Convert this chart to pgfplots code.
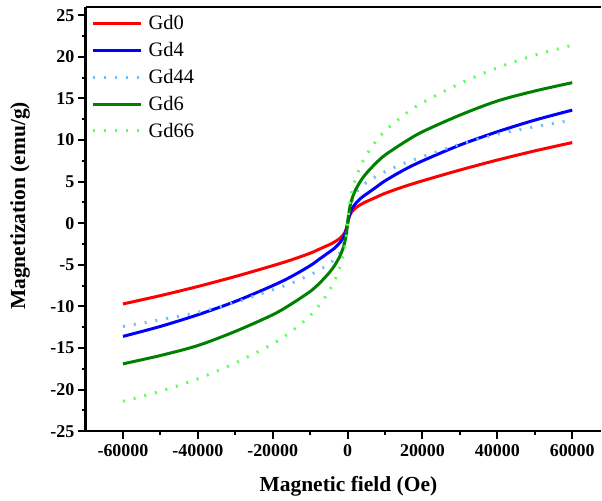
\documentclass[border=0pt]{standalone}
\usepackage{fontspec}
\setmainfont{Liberation Serif}
\usepackage{pgfplots}
\pgfplotsset{compat=1.18}

\definecolor{cGdO}{RGB}{255,0,0}
\definecolor{cGdF}{RGB}{0,0,255}
\definecolor{cGdFF}{RGB}{110,190,250}
\definecolor{cGdS}{RGB}{0,128,0}
\definecolor{cGdSS}{RGB}{90,255,90}

\begin{document}
\begin{tikzpicture}
\begin{axis}[
    scale only axis,
    width=516.3pt, height=425pt,
    xmin=-70000, xmax=67660,
    ymin=-25, ymax=26,
    axis x line=box, axis y line=left,
    axis line style={line width=2.2pt, -},
    xtick pos=left,
    tick align=outside,
    major tick length=8pt, minor tick length=4pt,
    tick style={line width=2pt, black},
    scaled x ticks=false,
    xtick={-60000,-40000,-20000,0,20000,40000,60000},
    xticklabels={-60000,-40000,-20000,0,20000,40000,60000},
    ytick={-25,-20,-15,-10,-5,0,5,10,15,20,25},
    yticklabels={-25,-20,-15,-10,-5,0,5,10,15,20,25},
    minor x tick num=1, minor y tick num=1,
    tick label style={font=\fontsize{18}{20}\selectfont\bfseries},
    xticklabel style={inner sep=5pt},
    yticklabel style={inner sep=3pt},
    xlabel={Magnetic field (Oe)},
    ylabel={Magnetization (emu/g)},
    label style={font=\fontsize{21.5}{24}\selectfont\bfseries},
    xlabel style={at={(axis description cs:0.51,-0.131)}, anchor=center},
    ylabel style={at={(axis description cs:-0.127,0.531)}, anchor=center, rotate=0},
    legend cell align=left,
    legend image code/.code={\draw[#1] (0pt,0pt) -- (47.6pt,0pt);},
    legend style={draw=none, fill=none, inner sep=0pt,
        at={(axis description cs:0,1)}, anchor=north west,
        xshift=6pt, yshift=-2.5pt,
        font=\fontsize{20.5}{24}\selectfont,
        nodes={inner sep=0pt, text height=19.8pt, text depth=7.2pt},
        /tikz/every odd column/.append style={column sep=6.4pt}},
]
\addplot[color=cGdO, line width=3pt, smooth, tension=0.5] coordinates {
(-60000,-9.7) (-50000,-8.7) (-40000,-7.6) (-30000,-6.4) (-20000,-5.1) (-15000,-4.4)
(-10000,-3.6) (-7500,-3.1) (-5000,-2.6) (-3500,-2.25) (-2000,-1.8) (-1000,-1.3)
(-500,-0.85) (-250,-0.5) (0,0) (250,0.5) (500,0.85) (1000,1.3) (2000,1.8)
(3500,2.25) (5000,2.6) (7500,3.1) (10000,3.6) (15000,4.4) (20000,5.1)
(30000,6.4) (40000,7.6) (50000,8.7) (60000,9.7)
};
\addlegendentry{Gd0}
\addplot[color=cGdF, line width=3pt, smooth, tension=0.5] coordinates {
(-60000,-13.6) (-50000,-12.4) (-40000,-11.0) (-30000,-9.4) (-20000,-7.5) (-15000,-6.4)
(-10000,-5.1) (-7500,-4.3) (-5000,-3.5) (-3500,-3.0) (-2000,-2.3) (-1000,-1.6)
(-500,-1.0) (-250,-0.6) (0,0) (250,0.6) (500,1.0) (1000,1.6) (2000,2.3)
(3500,3.0) (5000,3.5) (7500,4.3) (10000,5.1) (15000,6.4) (20000,7.5)
(30000,9.4) (40000,11.0) (50000,12.4) (60000,13.6)
};
\addlegendentry{Gd4}
\addplot[color=cGdFF, line width=3pt, dash pattern=on 2pt off 9pt, smooth, tension=0.5] coordinates {
(-60000,-12.4) (-50000,-11.6) (-40000,-10.7) (-30000,-9.5) (-20000,-8.0) (-15000,-7.2)
(-10000,-6.2) (-7500,-5.6) (-5000,-4.9) (-3500,-4.3) (-2000,-3.5) (-1000,-2.4)
(-500,-1.5) (-250,-0.9) (0,0) (250,0.9) (500,1.5) (1000,2.4) (2000,3.5)
(3500,4.3) (5000,4.9) (7500,5.6) (10000,6.2) (15000,7.2) (20000,8.0)
(30000,9.5) (40000,10.7) (50000,11.6) (60000,12.4)
};
\addlegendentry{Gd44}
\addplot[color=cGdS, line width=3pt, smooth, tension=0.5] coordinates {
(-60000,-16.9) (-50000,-15.9) (-40000,-14.7) (-30000,-13.0) (-20000,-11.0) (-15000,-9.7)
(-10000,-8.2) (-7500,-7.2) (-5000,-6.0) (-3500,-5.1) (-2000,-3.9) (-1000,-2.7)
(-500,-1.7) (-250,-1.0) (0,0) (250,1.0) (500,1.7) (1000,2.7) (2000,3.9)
(3500,5.1) (5000,6.0) (7500,7.2) (10000,8.2) (15000,9.7) (20000,11.0)
(30000,13.0) (40000,14.7) (50000,15.9) (60000,16.9)
};
\addlegendentry{Gd6}
\addplot[color=cGdSS, line width=3pt, dash pattern=on 2pt off 9pt, smooth, tension=0.5] coordinates {
(-60000,-21.4) (-50000,-20.2) (-40000,-18.7) (-30000,-16.8) (-20000,-14.5) (-15000,-13.0)
(-10000,-11.1) (-7500,-9.8) (-5000,-8.2) (-3500,-6.9) (-2000,-5.2) (-1000,-3.5)
(-500,-2.2) (-250,-1.3) (0,0) (250,1.3) (500,2.2) (1000,3.5) (2000,5.2)
(3500,6.9) (5000,8.2) (7500,9.8) (10000,11.1) (15000,13.0) (20000,14.5)
(30000,16.8) (40000,18.7) (50000,20.2) (60000,21.4)
};
\addlegendentry{Gd66}
\end{axis}
\path (current axis.south west) +(-85.7pt,-68pt) (current axis.north east) +(0pt,7pt);
\end{tikzpicture}
\end{document}
